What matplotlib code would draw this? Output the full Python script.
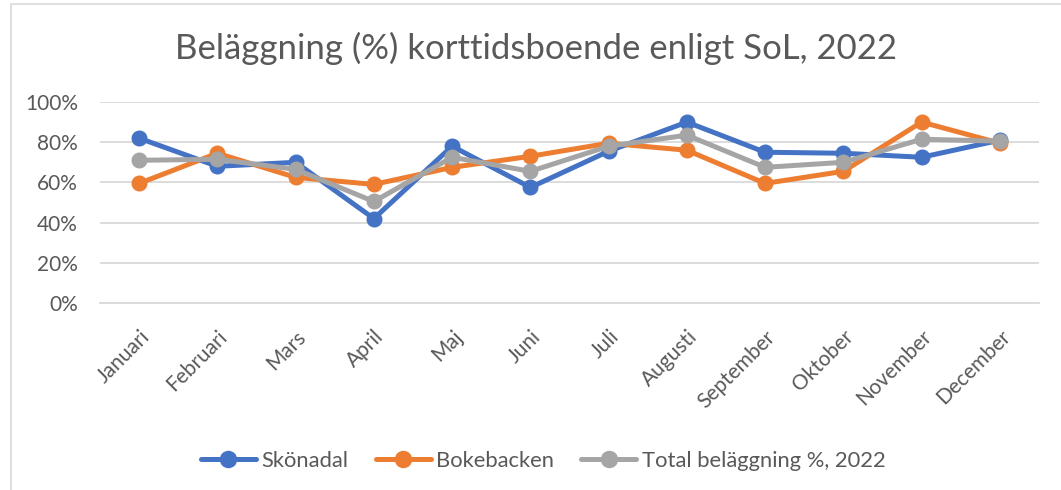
import matplotlib
matplotlib.use("Agg")
import matplotlib.pyplot as plt
from matplotlib.patches import Rectangle
from matplotlib.ticker import FuncFormatter

months = ["Januari", "Februari", "Mars", "April", "Maj", "Juni", "Juli",
          "Augusti", "September", "Oktober", "November", "December"]
skonadal = [82, 68, 70, 42, 78, 57.5, 75.5, 90, 75, 74.5, 72.5, 81]
bokebacken = [59.5, 74.5, 62.5, 59, 67.5, 73, 79.5, 76, 59.5, 65.5, 90, 79.5]
total = [71, 71.5, 66.5, 50.5, 72.5, 65.5, 78, 83.5, 67.5, 70, 81.5, 80.5]

series_names = ["Skönadal", "Bokebacken", "Total beläggning %, 2022"]
colors = ["#4472C4", "#ED7D31", "#A5A5A5"]
title = "Beläggning (%) korttidsboende enligt SoL, 2022"

plt.rcParams['font.family'] = ['Lato', 'DejaVu Sans']
text_color = "#595959"

W, H = 1061, 490
fig = plt.figure(figsize=(W / 100, H / 100), dpi=100)
fig.patch.set_facecolor("white")

# chart border
fig.patches.append(Rectangle((11 / W, -0.05), 1.1, 1.05 - 4 / H, transform=fig.transFigure,
                             fill=False, edgecolor="#D9D9D9", linewidth=1.2))

ax = fig.add_axes([100 / W, (H - 303) / H, 939 / W, (303 - 102) / H])
x = list(range(len(months)))
for vals, name, c in zip([skonadal, bokebacken, total], series_names, colors):
    ax.plot(x, [v / 100 for v in vals], color=c, linewidth=3.6, marker="o",
            markersize=10.5, label=name, solid_capstyle="round", solid_joinstyle="round")

ax.set_xlim(-0.5, len(months) - 0.5)
ax.set_ylim(0, 1.0)
ax.set_yticks([0, 0.2, 0.4, 0.6, 0.8, 1.0])
ax.yaxis.set_major_formatter(FuncFormatter(lambda v, p: f"{v*100:.0f}%"))
ax.grid(axis="y", color="#D9D9D9", linewidth=1.3)
ax.set_axisbelow(True)
for s in ["top", "right", "left"]:
    ax.spines[s].set_visible(False)
ax.spines["bottom"].set_color("#D9D9D9")
ax.spines["bottom"].set_linewidth(1.3)
ax.tick_params(axis="both", length=0, colors=text_color, labelsize=15)
ax.tick_params(axis="y", pad=16)
ax.set_xticks(x)
ax.set_xticklabels(months, rotation=45, ha="right", rotation_mode="anchor")
ax.tick_params(axis="x", pad=17)

fig.text(0.505, (H - 48) / H, title, ha="center", va="center", fontsize=25, color=text_color)

fig.legend(loc="center", bbox_to_anchor=(0.512, (H - 461) / H), ncol=3, frameon=False,
           fontsize=15.8, handlelength=2.5, handletextpad=0.25, columnspacing=1.25,
           labelcolor=text_color, markerscale=1.1)

fig.savefig("out.png", dpi=100, facecolor="white")
